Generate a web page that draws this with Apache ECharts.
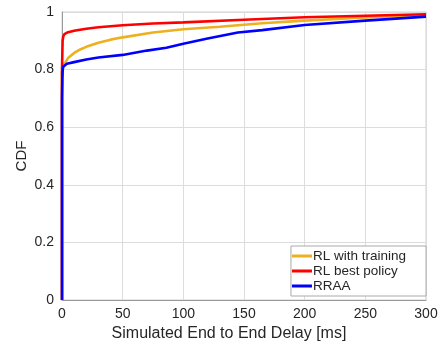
<!DOCTYPE html>
<html><head><meta charset="utf-8">
<script src="https://cdn.jsdelivr.net/npm/echarts@6/dist/echarts.min.js"></script>
<style>html,body{margin:0;padding:0;background:#fff}#c{width:441px;height:347px}</style>
</head><body><div id="c"></div>
<script>
const seriesNames = ['RL with training', 'RL best policy', 'RRAA'];
const trainX = [0,0,0.5,2,5,10,15,20,30,40,50,75,100,130,165,200,250,300];
const trainY = [0,0.79,0.805,0.82,0.84,0.858,0.87,0.879,0.893,0.904,0.912,0.929,0.94,0.949,0.961,0.970,0.981,0.990];
const bestX = [0,0,0.5,1,2,3,5,10,20,30,50,75,100,150,200,250,300];
const bestY = [0,0.80,0.90,0.915,0.923,0.927,0.93,0.935,0.942,0.947,0.954,0.960,0.964,0.973,0.982,0.987,0.992];
const rraaX = [0,0,0.3,0.6,1,2,4,10,20,30,50,70,86,100,120,145,165,200,250,300];
const rraaY = [0,0.70,0.77,0.80,0.81,0.815,0.82,0.826,0.835,0.842,0.851,0.866,0.876,0.890,0.908,0.929,0.937,0.955,0.970,0.984];
const xTicks = {min:0, max:300, interval:50};
const yTicks = {min:0, max:1, interval:0.2};
const colors = ['#EDB120', '#FF0000', '#0000FF'];

function pairs(xs, ys){ return xs.map((x,i)=>[x, ys[i]]); }
const chart = echarts.init(document.getElementById('c'), null, {renderer:'canvas'});
const font = 'Liberation Sans, Arial, Helvetica, sans-serif';
const dataSets = [pairs(trainX,trainY), pairs(bestX,bestY), pairs(rraaX,rraaY)];
chart.setOption({
  animation:false,
  backgroundColor:'#fff',
  grid:{left:62, right:15, top:12, bottom:47, show:true, borderColor:'#d0d0d0', borderWidth:1},
  xAxis:{type:'value', min:xTicks.min, max:xTicks.max, interval:xTicks.interval,
    name:'Simulated End to End Delay [ms]', nameLocation:'middle', nameGap:26,
    nameTextStyle:{fontFamily:font, fontSize:16, color:'#262626', padding:[0,30,0,0]},
    axisLine:{show:true, onZero:false, lineStyle:{color:'#999'}},
    axisTick:{show:false},
    axisLabel:{fontFamily:font, fontSize:14, color:'#262626', margin:7},
    splitLine:{show:true, lineStyle:{color:'#dcdcdc'}}},
  yAxis:{type:'value', min:yTicks.min, max:yTicks.max, interval:yTicks.interval,
    name:'CDF', nameLocation:'middle', nameGap:33, nameMoveOverlap:false,
    nameTextStyle:{fontFamily:font, fontSize:15, color:'#262626'},
    axisLine:{show:true, lineStyle:{color:'#999'}},
    axisTick:{show:false},
    axisLabel:{fontFamily:font, fontSize:14, color:'#262626', margin:8,
      formatter:v=>String(+v.toFixed(1))},
    splitLine:{show:true, lineStyle:{color:'#dcdcdc'}}},
  legend:{orient:'vertical', right:15, bottom:51, itemWidth:20, itemHeight:3, icon:'rect',
    itemGap:1, padding:[3,20,3,1], borderColor:'#aaa', borderWidth:1, backgroundColor:'#fff',
    textStyle:{fontFamily:font, fontSize:13.5, color:'#262626', padding:[0,0,0,-4]},
    data:seriesNames},
  series: seriesNames.map((n,i)=>({name:n, type:'line', data:dataSets[i], showSymbol:false, symbol:'none',
    lineStyle:{color:colors[i], width:2.6}, itemStyle:{color:colors[i]}, z:2+i}))
});
</script></body></html>
